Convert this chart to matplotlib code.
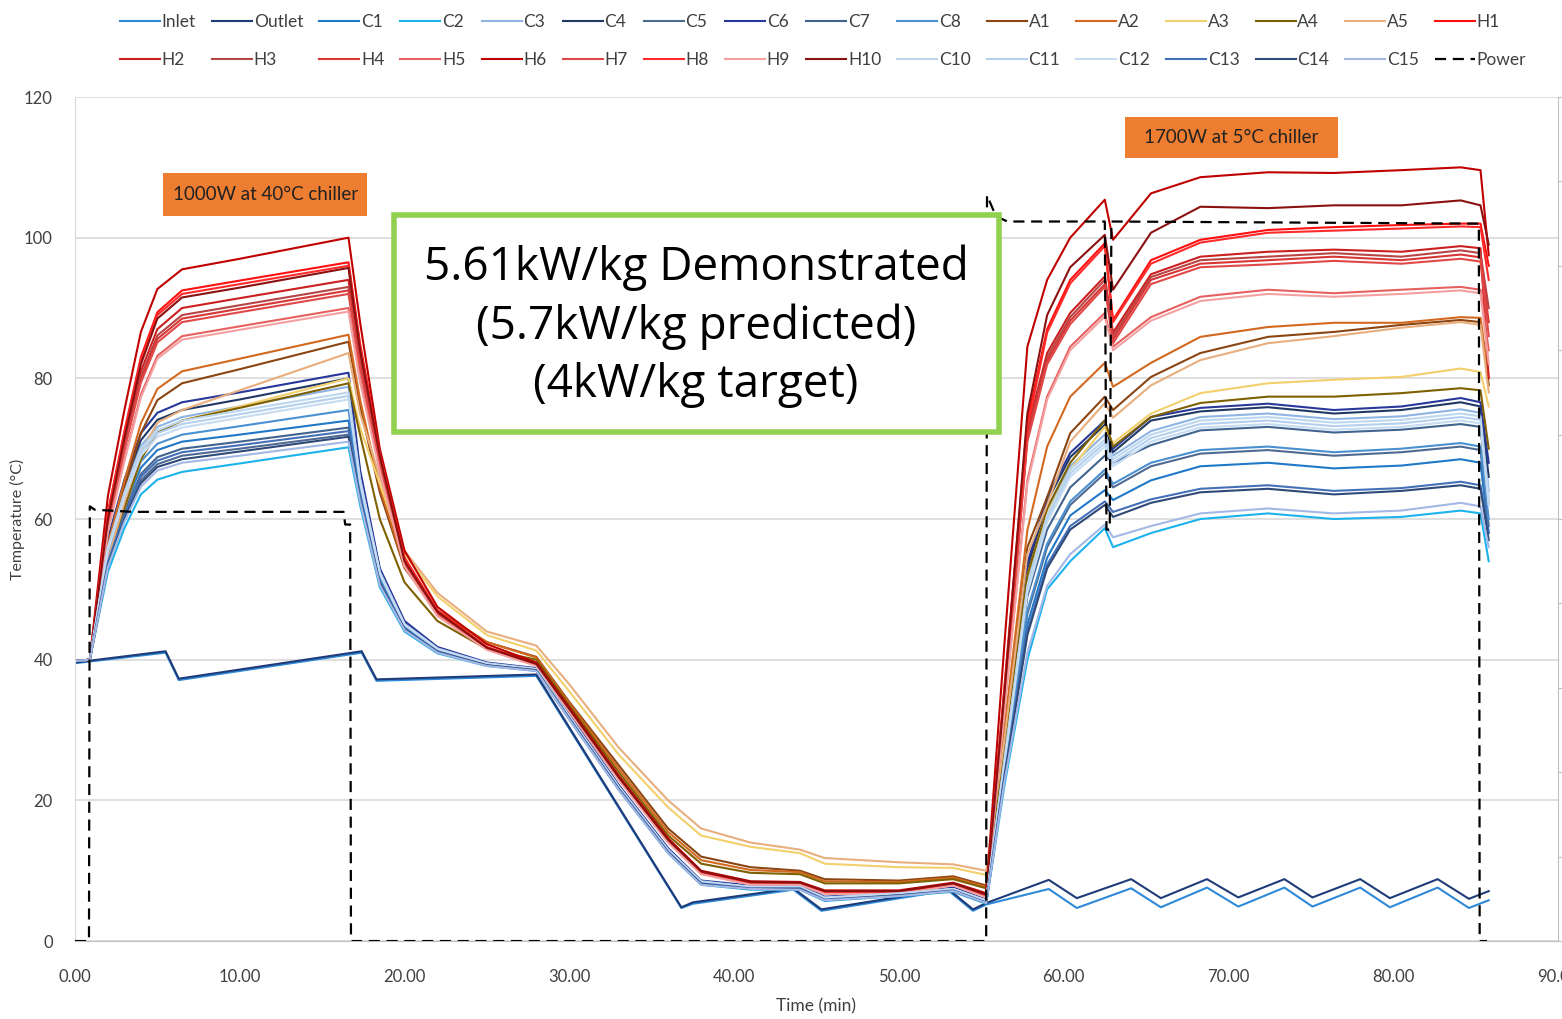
import matplotlib
matplotlib.use("Agg")
import matplotlib.pyplot as plt
from matplotlib.patches import Rectangle

# shared time base for the thermocouples (min)
t_tc = [0, 0.9, 2, 3, 4, 5, 6.5, 10, 16.6,
        17.3, 18.5, 20, 22, 25, 28,
        30, 33, 36, 38, 41, 44, 45.5, 50, 53.3, 55.3,
        56.4, 57.8, 59, 60.4, 62.5, 63, 65.3, 68.3, 72.4, 76.4, 80.5, 84.1, 85.3, 85.8]

# coolant inlet / outlet have their own time base
t_io = [0, 5.5, 6.3, 17.4, 18.3, 28.0, 36.8, 37.5, 43.6, 45.3, 53.0, 54.5, 55.3,
        59.1, 60.8, 64.1, 65.9, 68.7, 70.6, 73.4, 75.1, 78.0, 79.8, 82.7, 84.6, 85.8]
inlet = [39.5, 41.0, 37.1, 41.0, 37.0, 37.7, 4.7, 5.3, 7.3, 4.3, 7.2, 4.3, 5.2,
         7.4, 4.7, 7.5, 4.8, 7.6, 4.9, 7.6, 4.9, 7.6, 4.8, 7.6, 4.7, 5.8]
outlet = [39.6, 41.2, 37.3, 41.2, 37.2, 37.9, 4.8, 5.5, 7.5, 4.5, 7.4, 4.5, 5.4,
          8.7, 6.1, 8.8, 6.1, 8.8, 6.2, 8.8, 6.2, 8.8, 6.1, 8.8, 6.0, 7.1]

C1 = [39.8, 40, 54.6, 61.7, 67.3, 69.8, 71, 72, 74,
      64, 51.5, 44.6, 41.3, 39.3, 38.5,
      31.8, 21.8, 12.8, 8.3, 7.6, 7.5, 6, 6.6, 7.3, 5.6,
      24, 45, 54.5, 60.5, 64.1, 62.7, 65.5, 67.5, 68, 67.2, 67.6, 68.5, 68, 58]
C2 = [39.8, 40, 52.5, 58.7, 63.5, 65.6, 66.7, 67.9, 70.2,
      62, 50.3, 44, 40.9, 39.1, 38.4,
      31.5, 21.5, 12.5, 8, 7.3, 7.3, 5.7, 6.4, 7, 5.3,
      22, 40, 50, 54, 58.7, 56, 58, 60, 60.8, 60, 60.3, 61.2, 60.8, 54]
C3 = [39.8, 40, 56.2, 64.2, 70.4, 73.1, 74.5, 76, 78.8,
      66, 52.6, 45.2, 41.6, 39.5, 38.7,
      32, 22, 13, 8.5, 7.8, 7.8, 6.2, 6.8, 7.5, 5.8,
      26, 51, 61, 67.5, 72, 69, 72.5, 74.5, 75, 74.2, 74.6, 75.6, 75.1, 64]
C4 = [39.8, 40, 56.7, 64.9, 71.2, 74.1, 75.5, 77, 80,
      66.5, 52.8, 45.3, 41.7, 39.5, 38.7,
      32.1, 22.1, 13.1, 8.5, 7.8, 7.8, 6.2, 6.8, 7.5, 5.8,
      26.5, 53, 62.5, 68.8, 73.4, 69.5, 74, 75.3, 75.9, 75, 75.5, 76.6, 76, 66]
C5 = [39.8, 40, 53.6, 60.3, 65.5, 67.8, 69, 70, 72,
      63, 50.9, 44.3, 41.1, 39.2, 38.5,
      31.6, 21.6, 12.6, 8.1, 7.5, 7.4, 5.9, 6.5, 7.2, 5.5,
      24.5, 46.5, 56, 62, 66.5, 64.5, 67.5, 69.3, 69.8, 69, 69.5, 70.3, 69.8, 59]
C6 = [39.8, 40, 57.2, 65.6, 72.2, 75.1, 76.6, 78, 80.8,
      67, 53, 45.5, 41.8, 39.6, 38.8,
      32.2, 22.2, 13.2, 8.6, 7.9, 7.9, 6.3, 6.9, 7.6, 5.9,
      27, 53.7, 63.1, 69.4, 74, 70, 74.5, 75.8, 76.4, 75.5, 76, 77.2, 76.6, 68]
C7 = [39.8, 40, 54.1, 61, 66.4, 68.8, 70, 71, 73,
      63.5, 51.2, 44.5, 41.2, 39.3, 38.5,
      31.7, 21.7, 12.7, 8.2, 7.5, 7.5, 5.9, 6.6, 7.2, 5.5,
      25, 49, 58.5, 64.5, 69, 68, 70.5, 72.6, 73.1, 72.3, 72.7, 73.5, 73.1, 62]
C8 = [39.8, 40, 55, 62.4, 68.2, 70.7, 72, 73.2, 75.5,
      64.5, 51.8, 44.8, 41.4, 39.4, 38.6,
      31.8, 21.8, 12.8, 8.3, 7.6, 7.6, 6, 6.7, 7.3, 5.6,
      24.5, 47, 56.5, 62.5, 67, 65, 68, 69.8, 70.3, 69.5, 70, 70.8, 70.3, 60]
A1 = [39.8, 40, 55.7, 64.4, 72.2, 76.9, 79.3, 81.3, 85.2,
      76, 63.8, 53, 46.9, 42.5, 40.4,
      34, 25, 16, 12, 10.5, 10, 8.8, 8.6, 9.2, 7.9,
      29, 56, 63.1, 72.2, 77.4, 75.5, 80.2, 83.6, 85.9, 86.6, 87.6, 88.3, 88, 79]
A2 = [39.8, 40, 56.4, 65.4, 73.6, 78.5, 81, 82.8, 86.2,
      77, 64.5, 53.3, 47, 42.5, 40.3,
      33.8, 24.5, 15.5, 11.5, 10.1, 9.8, 8.5, 8.4, 9, 7.7,
      30, 58.4, 70.3, 77.4, 82.2, 78.8, 82.2, 85.9, 87.3, 87.9, 87.9, 88.7, 88.6, 80]
A3 = [39.8, 40, 53.6, 61.5, 68.5, 72.3, 74, 76, 80,
      73, 65, 55, 49, 43.5, 41.3,
      35.5, 26.5, 19, 15, 13.4, 12.5, 11, 10.5, 10.4, 9.4,
      28, 52, 60.8, 67, 73.1, 70.8, 75, 77.9, 79.3, 79.8, 80.2, 81.4, 80.9, 76]
A4 = [39.8, 40, 53.6, 61.5, 68.5, 72.3, 74, 75.8, 79.3,
      72, 60, 51, 45.5, 41.5, 40,
      33.5, 24, 15, 11, 9.7, 9.5, 8.2, 8.2, 8.8, 7.5,
      28, 52, 61.5, 68, 74, 70.3, 74.5, 76.5, 77.4, 77.4, 77.9, 78.6, 78.3, 70]
A5 = [39.8, 40, 54.2, 62.4, 69.5, 73.7, 75.5, 78.3, 83.6,
      75, 66, 55.5, 49.5, 44, 42,
      36.5, 27.5, 20, 16, 14, 13, 11.8, 11.2, 10.9, 10,
      28.5, 55, 62, 71, 76.5, 74.4, 79, 82.6, 85, 86, 87.2, 88, 87.6, 78]
H1 = [39.8, 40, 61, 72.5, 83, 89.4, 92.5, 93.9, 96.5,
      85, 69.5, 54.5, 47, 41.8, 39.4,
      33, 23.3, 14.4, 9.8, 8.3, 8.3, 7, 7, 8.2, 6.5,
      36, 74, 87, 94, 99.2, 88.3, 96.8, 99.7, 101.1, 101.5, 101.8, 102, 102, 96]
H2 = [39.8, 40, 60, 71, 81, 87, 90, 91.4, 94,
      83, 68.5, 54, 46.6, 41.6, 39.3,
      32.9, 23.2, 14.3, 9.7, 8.2, 8.2, 6.9, 6.9, 8.1, 6.4,
      34, 72.7, 83.6, 89.3, 94.5, 86.5, 94.8, 97.3, 98, 98.3, 98, 98.8, 98.5, 80]
H3 = [39.8, 40, 59.6, 70.4, 80.2, 86.1, 89, 90.4, 93,
      82.5, 68.2, 53.8, 46.5, 41.6, 39.3,
      32.8, 23.1, 14.2, 9.7, 8.2, 8.1, 6.9, 6.9, 8.1, 6.4,
      33.5, 72, 83, 88.7, 94, 86, 94.4, 96.8, 97.3, 97.8, 97.3, 98.2, 97.8, 90]
H4 = [39.8, 40, 59.4, 70, 79.8, 85.6, 88.5, 89.9, 92.5,
      82, 68, 53.7, 46.4, 41.5, 39.2,
      32.8, 23.1, 14.2, 9.6, 8.1, 8.1, 6.8, 6.8, 8, 6.3,
      33.5, 71.5, 82.5, 88.2, 93.4, 85.5, 94, 96.3, 96.8, 97.3, 96.8, 97.6, 97.2, 88]
H5 = [39.8, 40, 58.4, 68.5, 77.7, 83.2, 86, 87.4, 90,
      80, 67, 53.3, 46.3, 41.5, 39.2,
      32.7, 23, 14.1, 9.6, 8.1, 8, 6.8, 6.8, 8, 6.3,
      33, 65.5, 77.4, 84.5, 89.3, 84.5, 88.7, 91.6, 92.6, 92.1, 92.6, 93, 92.6, 84]
H6 = [39.8, 40, 63.3, 75.5, 86.6, 92.7, 95.5, 97, 100,
      88, 70, 55.5, 47.5, 42.2, 39.6,
      33.2, 23.5, 14.6, 10, 8.5, 8.4, 7.2, 7.2, 8.3, 6.8,
      42, 84.5, 94, 100, 105.4, 99.7, 106.3, 108.6, 109.3, 109.2, 109.6, 110, 109.6, 97.5]
H7 = [39.8, 40, 59.2, 69.8, 79.4, 85.1, 88, 89.4, 92,
      81.5, 67.8, 53.6, 46.4, 41.5, 39.2,
      32.7, 23, 14.1, 9.6, 8.1, 8, 6.8, 6.8, 8, 6.3,
      33, 71, 82, 87.7, 93, 85, 93.4, 95.8, 96.2, 96.7, 96.3, 97, 96.6, 86]
H8 = [39.8, 40, 60.8, 72.2, 82.6, 89, 92, 93.4, 96,
      84.5, 69.3, 54.3, 46.9, 41.7, 39.3,
      32.9, 23.2, 14.3, 9.8, 8.3, 8.2, 7, 7, 8.1, 6.5,
      35.5, 73, 86.5, 93.5, 98.8, 88, 96.3, 99.3, 100.7, 101, 101.3, 101.6, 101.5, 94]
H9 = [39.8, 40, 58.2, 68.2, 77.3, 82.8, 85.5, 86.9, 89.5,
      79.5, 66.7, 53.2, 46.2, 41.4, 39.1,
      32.6, 22.9, 14, 9.5, 8, 8, 6.7, 6.7, 7.9, 6.2,
      32.5, 65, 77, 84, 88.8, 84, 88.2, 91, 92, 91.6, 92, 92.5, 92.1, 82]
H10 = [39.8, 40, 60, 71.5, 82, 88.5, 91.5, 92.9, 95.7,
       84, 69, 54, 46.8, 41.7, 39.4,
       33, 23.3, 14.4, 9.9, 8.4, 8.3, 7.1, 7.1, 8.2, 6.6,
       35, 75, 89, 95.8, 100.4, 92.6, 100.7, 104.4, 104.2, 104.6, 104.6, 105.3, 104.6, 99]
C10 = [39.8, 40, 56, 63.8, 70, 72.6, 74, 75.4, 78,
       65.8, 52.5, 45.1, 41.6, 39.5, 38.7,
       32, 22, 13, 8.5, 7.7, 7.7, 6.2, 6.8, 7.4, 5.8,
       25.5, 50.5, 60.5, 67, 71.3, 68.5, 72, 74, 74.5, 73.7, 74.1, 75, 74.6, 63]
C11 = [39.8, 40, 55.7, 63.5, 69.5, 72.2, 73.5, 74.9, 77.5,
       65.5, 52.3, 45, 41.5, 39.4, 38.6,
       31.9, 21.9, 12.9, 8.4, 7.7, 7.7, 6.1, 6.7, 7.4, 5.7,
       25.5, 50, 60, 66.5, 70.8, 68, 71.5, 73.5, 74, 73.2, 73.6, 74.5, 74.1, 62]
C12 = [39.8, 40, 55.5, 63.1, 69, 71.7, 73, 74.4, 77,
       65.2, 52.2, 45, 41.5, 39.4, 38.6,
       31.9, 21.9, 12.9, 8.4, 7.7, 7.6, 6.1, 6.7, 7.4, 5.7,
       25, 49.5, 59.5, 66, 70.3, 67.5, 71, 73, 73.5, 72.7, 73.1, 74, 73.6, 62]
C13 = [39.8, 40, 53.9, 60.7, 66, 68.3, 69.5, 70.5, 72.5,
       63.2, 51, 44.4, 41.2, 39.2, 38.5,
       31.7, 21.7, 12.7, 8.2, 7.5, 7.5, 5.9, 6.5, 7.2, 5.5,
       23.5, 44, 53.5, 59, 62.5, 61, 62.8, 64.3, 64.8, 64, 64.4, 65.3, 64.8, 58]
C14 = [39.8, 40, 53.4, 60, 65.1, 67.4, 68.5, 69.6, 71.7,
       62.8, 50.8, 44.3, 41.1, 39.2, 38.5,
       31.6, 21.6, 12.6, 8.1, 7.4, 7.4, 5.8, 6.5, 7.1, 5.4,
       23, 43.5, 53, 58.5, 62, 60.3, 62.3, 63.8, 64.3, 63.5, 64, 64.8, 64.3, 57]
C15 = [39.8, 40, 53.2, 59.6, 64.6, 66.9, 68, 69, 71,
       62.5, 50.6, 44.2, 41, 39.1, 38.4,
       31.5, 21.5, 12.5, 8, 7.4, 7.3, 5.8, 6.4, 7.1, 5.4,
       22.5, 41, 50.5, 55, 59.2, 57.4, 59, 60.8, 61.5, 60.8, 61.2, 62.3, 61.8, 56]

# heater power (W), secondary axis
t_power = [0, 0.85, 0.9, 1.2, 3.5, 16.3, 16.4, 16.7, 16.75, 55.3, 55.35, 55.9, 56.6,
           62.5, 62.6, 62.8, 62.9, 85.2, 85.25, 85.7]
power_w = [0, 0, 1030, 1022, 1017, 1017, 987, 987, 0, 0, 1767, 1717, 1705,
           1705, 975, 975, 1705, 1700, 0, 0]

thermocouples = [
    ("C1", C1, "#1F78C8"), ("C2", C2, "#1CB2EC"), ("C3", C3, "#8DB4E2"),
    ("C4", C4, "#1F3864"), ("C5", C5, "#4F6A92"), ("C6", C6, "#27389A"),
    ("C7", C7, "#41648F"), ("C8", C8, "#4A90D0"),
    ("A1", A1, "#8B4513"), ("A2", A2, "#D2691E"), ("A3", A3, "#F2D06B"),
    ("A4", A4, "#7F6000"), ("A5", A5, "#E8AE7E"),
    ("H1", H1, "#FF1010"), ("H2", H2, "#CC1F1F"), ("H3", H3, "#B84545"),
    ("H4", H4, "#D83535"), ("H5", H5, "#E66060"), ("H6", H6, "#C00000"),
    ("H7", H7, "#E04848"), ("H8", H8, "#FF2A2A"), ("H9", H9, "#F4A0A0"),
    ("H10", H10, "#8B1010"),
    ("C10", C10, "#BDD7EE"), ("C11", C11, "#B4D0EE"), ("C12", C12, "#C5DCF2"),
    ("C13", C13, "#4470B8"), ("C14", C14, "#2F4A78"), ("C15", C15, "#A4B8E6"),
]

font = ["Lato", "DejaVu Sans"]
txt_col = "#404040"

fig = plt.figure(figsize=(15.62, 10.19), dpi=100)
ax = fig.add_axes([0.048, 0.0765, 0.9494, 0.8283])

handles = []
h, = ax.plot(t_io, inlet, color="#2E8AD8", lw=1.5, label="Inlet")
handles.append(h)
h, = ax.plot(t_io, outlet, color="#1F3C78", lw=1.5, label="Outlet")
handles.append(h)
for name, vals, col in thermocouples:
    h, = ax.plot(t_tc, vals, color=col, lw=1.5, label=name)
    handles.append(h)

ax.set_xlim(0, 90)
ax.set_ylim(0, 120)
ax.set_xticks(range(0, 91, 10))
ax.set_xticklabels([f"{v:.2f}" for v in range(0, 91, 10)])
ax.set_yticks(range(0, 121, 20))
ax.grid(axis="y", color="#D9D9D9", lw=1.2)
ax.set_axisbelow(True)
ax.tick_params(axis="y", length=0, labelsize=12, labelcolor=txt_col, pad=16)
ax.tick_params(axis="x", length=0, labelsize=12, labelcolor=txt_col, pad=20)
for lab in ax.get_xticklabels() + ax.get_yticklabels():
    lab.set_family(font)
for s in ["top", "right"]:
    ax.spines[s].set_visible(False)
ax.spines["left"].set_color("#D9D9D9")
ax.spines["bottom"].set_color("#BFBFBF")
ax.set_xlabel("Time (min)", fontsize=12.5, color=txt_col, family=font, labelpad=10)
ax.set_ylabel("Temperature (\u00b0C)", fontsize=11.5, color=txt_col, family=font)
ax.yaxis.set_label_coords(-0.034, 0.5)

ax2 = ax.twinx()
h, = ax2.plot(t_power, power_w, color="black", lw=1.6, ls=(0, (5, 3)), label="Power")
handles.append(h)
ax2.set_ylim(0, 2000)
ax2.set_yticks(range(0, 2001, 200))
ax2.tick_params(axis="y", length=6, color="#BFBFBF", labelright=False)
for s in ["top", "left", "bottom"]:
    ax2.spines[s].set_visible(False)
ax2.spines["right"].set_color("#BFBFBF")

# annotation boxes (drawn on ax2 so they sit above every series)
ax2.add_patch(Rectangle((19.35, 72.4), 36.75, 30.8, transform=ax.transData,
                        fc="white", ec="#92D050", lw=4, zorder=10))
ax2.text(37.7, 87.4, "5.61kW/kg Demonstrated\n(5.7kW/kg predicted)\n(4kW/kg target)",
         transform=ax.transData, ha="center", va="center", fontsize=33,
         family="Open Sans", linespacing=1.36, zorder=11)
ax2.add_patch(Rectangle((5.35, 103.1), 12.4, 6.1, transform=ax.transData,
                        fc="#ED7D31", ec="none", zorder=10))
ax2.text(11.55, 106.1, "1000W at 40\u00b0C chiller", transform=ax.transData,
         ha="center", va="center", fontsize=13.5, family=font, color="#222222", zorder=11)
ax2.add_patch(Rectangle((63.73, 111.3), 12.95, 5.9, transform=ax.transData,
                        fc="#ED7D31", ec="none", zorder=10))
ax2.text(70.2, 114.2, "1700W at 5\u00b0C chiller", transform=ax.transData,
         ha="center", va="center", fontsize=13.5, family=font, color="#222222", zorder=11)

# legend: two rows filled row by row
row1, row2 = handles[:16], handles[16:]
order = [hh for pair in zip(row1, row2) for hh in pair]
fig.legend(handles=order, labels=[hh.get_label() for hh in order], ncol=16,
           loc="upper left", bbox_to_anchor=(0.068, 1.0, 0.918, 0.0), mode="expand",
           frameon=False, handlelength=2.3, handletextpad=0.1, labelspacing=1.25,
           prop={"family": font, "size": 12.5}, labelcolor=txt_col, borderaxespad=0.4)

fig.savefig("out.png", dpi=100)
